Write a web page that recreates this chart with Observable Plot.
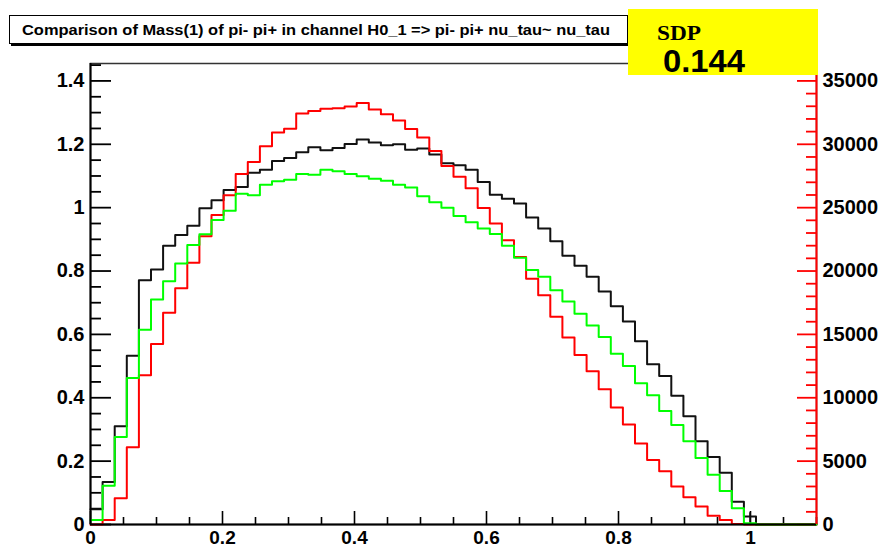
<!DOCTYPE html>
<html><head><meta charset="utf-8">
<script src="https://cdn.jsdelivr.net/npm/d3@7"></script>
<script src="https://cdn.jsdelivr.net/npm/@observablehq/plot@0.6"></script>
<style>
html,body{margin:0;padding:0;background:#fff;}
#wrap{position:relative;width:883px;height:549px;overflow:hidden;}
#chart{position:absolute;left:0;top:0;}
#title{position:absolute;left:9px;top:15px;width:617px;height:27px;border:1px solid #000;box-shadow:2px 2px 0 #000;background:#fff;}
#sdp{position:absolute;left:628px;top:9px;width:190px;height:76px;}
svg text{font-family:"Liberation Sans",Arial,sans-serif;}
</style></head>
<body>
<div id="wrap">
<div id="chart"></div>
<div id="title"><svg width="617" height="27"><text x="12" y="19" font-family="Liberation Sans, Arial" font-weight="bold" font-size="14" textLength="588" lengthAdjust="spacingAndGlyphs">Comparison of Mass(1) of pi- pi+ in channel H0_1 =&gt; pi- pi+ nu_tau~ nu_tau</text></svg></div>
<div id="sdp"><svg width="190" height="76"><rect x="0" y="0" width="190" height="66" fill="#ffff00"></rect><text x="29" y="31" style="font-family:'Liberation Serif',serif" font-weight="bold" font-size="22" textLength="44" lengthAdjust="spacingAndGlyphs">SDP</text><text x="35" y="63" font-weight="bold" font-size="32" textLength="82" lengthAdjust="spacingAndGlyphs">0.144</text></svg></div>
</div>
<script>
// histogram binning
const xMin = 0, xMax = 1.1, nBins = 60;
// left-axis (black, green) values per bin
const blackVals = [0.048,0.134,0.31,0.533,0.771,0.805,0.88,0.914,0.943,0.998,
 1.023,1.056,1.065,1.11,1.12,1.147,1.157,1.175,1.191,1.181,
 1.188,1.201,1.215,1.206,1.197,1.2,1.183,1.187,1.168,1.14,
 1.134,1.12,1.081,1.041,1.028,1.013,0.969,0.934,0.894,0.848,
 0.817,0.782,0.735,0.689,0.641,0.578,0.506,0.469,0.406,0.342,
 0.263,0.213,0.163,0.072,0.025,0,0,0,0,0];
const greenVals = [0.014,0.122,0.276,0.462,0.615,0.71,0.768,0.824,0.882,0.916,
 0.961,0.99,1.044,1.039,1.072,1.083,1.088,1.106,1.104,1.12,
 1.115,1.106,1.099,1.091,1.085,1.072,1.064,1.036,1.017,1.0,
 0.974,0.954,0.934,0.917,0.88,0.842,0.803,0.782,0.739,0.704,
 0.665,0.628,0.592,0.539,0.5,0.446,0.408,0.358,0.314,0.263,
 0.21,0.157,0.106,0.051,0.004,0,0,0,0,0];
// right-axis (red) counts per bin
const redCounts = [0,350,2080,6100,11780,14250,16700,18650,20650,22750,
 24430,25980,27650,28600,29850,30930,31230,32430,32630,32800,
 32850,32980,33250,32750,32380,31880,31200,30530,29480,28280,
 27430,26530,24980,23750,22430,21100,19400,18080,16400,14750,
 13380,12100,10680,9230,7900,6400,5080,4200,3000,2150,
 1430,700,350,30,0,0,0,0,0,0];
const blackErr = [{bin: 54, lo: 0.005, hi: 0.037}];
// axes
const leftMax = 1.455, rightMax = 36375;
const xTicks = [0, 0.2, 0.4, 0.6, 0.8, 1];
const leftTicks = [0, 0.2, 0.4, 0.6, 0.8, 1, 1.2, 1.4];
const rightTicks = [0, 5000, 10000, 15000, 20000, 25000, 30000, 35000];

const k = leftMax / rightMax;
const w = (xMax - xMin) / nBins;
const width = 883, height = 549, mL = 90, mR = 67, mT = 63, mB = 25;
const PW = width - mL - mR, PH = height - mT - mB;
const xMinor = d3.range(0, 23).map(i => +(i * 0.05).toFixed(2)).filter(v => v <= xMax && !xTicks.includes(v));
const leftMinor = d3.range(0, 30).map(i => +(i * 0.05).toFixed(2)).filter(v => v <= leftMax && !leftTicks.includes(v));
const rightMinor = d3.range(0, 37).map(i => i * 1000).filter(v => v <= rightMax && v % 5000 !== 0);

function stepData(vals, f) {
  const pts = vals.map((v, i) => ({x: xMin + i * w, y: f(v)}));
  pts.push({x: xMax, y: f(vals[vals.length - 1])});
  return pts;
}
const blackPts = stepData(blackVals, v => v);
const greenPts = stepData(greenVals, v => v);
const redPts = stepData(redCounts, v => v * k);

const fmt = d => String(+d.toFixed(2));
const chart = Plot.plot({
  width, height, marginLeft: mL, marginRight: mR, marginTop: mT, marginBottom: mB,
  x: {domain: [xMin, xMax], label: null},
  y: {domain: [0, leftMax], label: null},
  style: {fontFamily: "Liberation Sans, Arial, sans-serif", fontSize: "19px", fontWeight: "bold", color: "#000", background: "transparent"},
  marks: [
    Plot.frame({stroke: "#333", strokeWidth: 1.5}),
    Plot.tickX(xTicks, {insetTop: PH - 13, stroke: "#000", strokeWidth: 1.6}),
    Plot.tickX(xMinor, {insetTop: PH - 7, stroke: "#000", strokeWidth: 1.6}),
    Plot.tickY(leftTicks, {insetRight: PW - 21, stroke: "#000", strokeWidth: 1.8}),
    Plot.tickY(leftMinor, {insetRight: PW - 11, stroke: "#000", strokeWidth: 1.8}),
    Plot.tickY(rightTicks, {y: d => d * k, insetLeft: PW - 19, stroke: "#ff0000", strokeWidth: 1.8}),
    Plot.tickY(rightMinor, {y: d => d * k, insetLeft: PW - 10, stroke: "#ff0000", strokeWidth: 1.8}),
    Plot.line(blackPts, {x: "x", y: "y", curve: "step-after", stroke: "#111", strokeWidth: 2}),
    Plot.ruleX(blackErr, {x: d => xMin + (d.bin + 0.5) * w, y1: "lo", y2: "hi", stroke: "#111", strokeWidth: 1.5}),
    Plot.line(redPts, {x: "x", y: "y", curve: "step-after", stroke: "#ff0000", strokeWidth: 2}),
    Plot.line(greenPts, {x: "x", y: "y", curve: "step-after", stroke: "#00ff00", strokeWidth: 2}),
    Plot.ruleX([xMin], {stroke: "#000", strokeWidth: 2}),
    Plot.ruleY([0], {stroke: "#000", strokeWidth: 2}),
    Plot.ruleX([xMax], {stroke: "#ff0000", strokeWidth: 2}),
    Plot.axisX(xTicks, {tickSize: 0, tickPadding: 6, tickFormat: fmt, label: null, fontSize: 19, fontWeight: "bold"}),
    Plot.axisY(leftTicks, {anchor: "left", tickSize: 0, tickPadding: 6, tickFormat: fmt, label: null, fontSize: 20, fontWeight: "bold"}),
    Plot.axisY(rightTicks.map(v => v * k), {anchor: "right", tickSize: 0, tickPadding: 6, tickFormat: v => String(Math.round(v / k)), label: null, fontSize: 20, fontWeight: "bold"})
  ]
});
document.getElementById("chart").appendChild(chart);
</script>
</body></html>
